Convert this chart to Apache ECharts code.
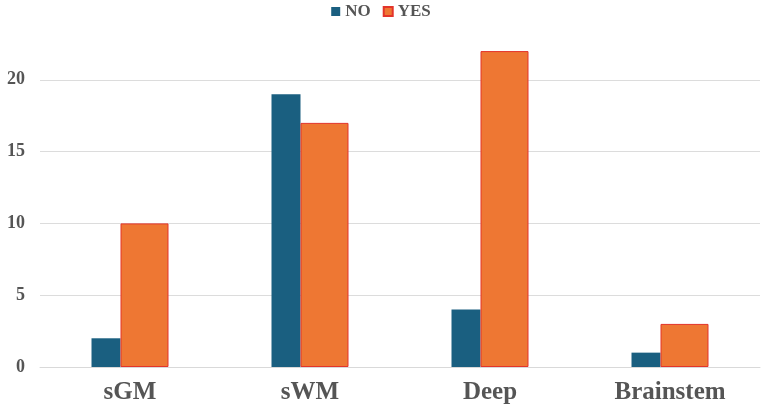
<!DOCTYPE html>
<html><head><meta charset="utf-8">
<script src="https://cdn.jsdelivr.net/npm/echarts@6/dist/echarts.min.js"></script>
<style>html,body{margin:0;padding:0;background:#fff}#c{width:762px;height:409px}</style>
</head><body><div id="c"></div>
<script>
const categories = ['sGM', 'sWM', 'Deep', 'Brainstem'];
const noValues = [2, 19, 4, 1];
const yesValues = [10, 17, 22, 3];
const seriesNames = ['NO', 'YES'];

const chart = echarts.init(document.getElementById('c'), null, {renderer: 'canvas'});
const font = '"Liberation Serif", "Times New Roman", serif';
chart.setOption({
  animation: false,
  legend: {
    top: -2, left: 'center', itemWidth: 9, itemHeight: 9, itemGap: 12, icon: 'rect',
    textStyle: {fontFamily: font, fontWeight: 'bold', fontSize: 17, color: '#555'},
    data: seriesNames
  },
  grid: {left: 40, right: 2, top: 8, bottom: 42},
  xAxis: {
    type: 'category', data: categories,
    axisLine: {lineStyle: {color: '#d9d9d9'}}, axisTick: {show: false},
    axisLabel: {fontFamily: font, fontWeight: 'bold', fontSize: 25, color: '#555', margin: 13}
  },
  yAxis: {
    type: 'value', min: 0, max: 25, interval: 5,
    axisLine: {show: false}, axisTick: {show: false},
    splitLine: {lineStyle: {color: ['#dcdcdc','#dcdcdc','#dcdcdc','#dcdcdc','#dcdcdc','rgba(0,0,0,0)']}},
    axisLabel: {fontFamily: font, fontWeight: 'bold', fontSize: 18, color: '#555', margin: 15,
      formatter: v => v === 25 ? '' : String(v)}
  },
  series: [
    {name: seriesNames[0], type: 'bar', data: noValues, barWidth: 29, barGap: '0%',
      itemStyle: {color: '#1a5f80'}},
    {name: seriesNames[1], type: 'bar', data: yesValues, barWidth: 48, barGap: '0%',
      itemStyle: {color: '#ee7733', borderColor: '#e3342a', borderWidth: 1}}
  ]
});
</script></body></html>
